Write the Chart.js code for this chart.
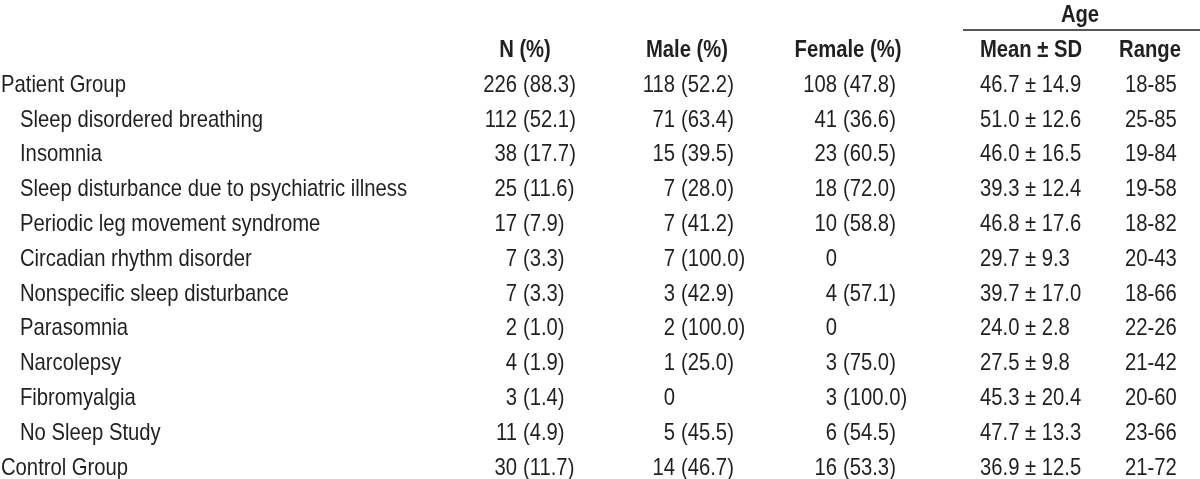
<!DOCTYPE html>
<html>
<head>
<meta charset="utf-8">
<script src="https://cdn.jsdelivr.net/npm/chart.js@4"></script>
<style>
  html, body { margin: 0; padding: 0; background: #fff; }
  #wrap { width: 1200px; height: 479px; }
</style>
</head>
<body>
<div id="wrap"><canvas id="chartTable"></canvas></div>
<script>
// table data
const rowLabels = ['Patient Group', 'Sleep disordered breathing', 'Insomnia',
  'Sleep disturbance due to psychiatric illness', 'Periodic leg movement syndrome',
  'Circadian rhythm disorder', 'Nonspecific sleep disturbance', 'Parasomnia',
  'Narcolepsy', 'Fibromyalgia', 'No Sleep Study', 'Control Group'];
const subRow = [false, true, true, true, true, true, true, true, true, true, true, false];
const nCount = [226, 112, 38, 25, 17, 7, 7, 2, 4, 3, 11, 30];
const nPct = [88.3, 52.1, 17.7, 11.6, 7.9, 3.3, 3.3, 1.0, 1.9, 1.4, 4.9, 11.7];
const maleCount = [118, 71, 15, 7, 7, 7, 3, 2, 1, 0, 5, 14];
const malePct = [52.2, 63.4, 39.5, 28.0, 41.2, 100.0, 42.9, 100.0, 25.0, null, 45.5, 46.7];
const femaleCount = [108, 41, 23, 18, 10, 0, 4, 0, 3, 3, 6, 16];
const femalePct = [47.8, 36.6, 60.5, 72.0, 58.8, null, 57.1, null, 75.0, 100.0, 54.5, 53.3];
const ageMean = [46.7, 51.0, 46.0, 39.3, 46.8, 29.7, 39.7, 24.0, 27.5, 45.3, 47.7, 36.9];
const ageSD = [14.9, 12.6, 16.5, 12.4, 17.6, 9.3, 17.0, 2.8, 9.8, 20.4, 13.3, 12.5];
const ageMin = [18, 25, 19, 19, 18, 20, 18, 22, 21, 20, 23, 21];
const ageMax = [85, 85, 84, 58, 82, 43, 66, 26, 42, 60, 66, 72];
const columnHeaders = ['N (%)', 'Male (%)', 'Female (%)', 'Mean \u00b1 SD', 'Range'];
const groupHeader = 'Age';

// layout (x in page px, y in row index)
const colX = { label: 1, sub: 20, n: 520, male: 678, female: 840, mean: 980, range: 1125 };
const headerX = [525, 687, 848, 1031, 1150];
const groupX = 1080;
const groupLine = [963, 1200];
const textColor = '#231f20';
const fontFamily = "'Liberation Sans', Arial, sans-serif";
const fontSize = 24;

function countText(c, p) {
  return p === null ? [String(c), ''] : [String(c), '(' + p.toFixed(1) + ')'];
}

function cells(key, align, fmt) {
  return {
    type: 'scatter', align: align, pointRadius: 0,
    data: rowLabels.map((_, i) => ({ x: colX[key], y: i + 2, text: fmt(i) }))
  };
}

const datasets = [
  {
    type: 'scatter', align: 'left', pointRadius: 0,
    data: rowLabels.map((lab, i) => ({ x: subRow[i] ? colX.sub : colX.label, y: i + 2, text: lab }))
  },
  cells('n', 'paren', i => countText(nCount[i], nPct[i])),
  cells('male', 'paren', i => countText(maleCount[i], malePct[i])),
  cells('female', 'paren', i => countText(femaleCount[i], femalePct[i])),
  cells('mean', 'left', i => ageMean[i].toFixed(1) + ' \u00b1 ' + ageSD[i].toFixed(1)),
  cells('range', 'left', i => ageMin[i] + '-' + ageMax[i]),
  {
    type: 'scatter', align: 'center', bold: true, pointRadius: 0,
    data: columnHeaders.map((h, i) => ({ x: headerX[i], y: 1, text: h }))
      .concat([{ x: groupX, y: 0, text: groupHeader }])
  },
  {
    type: 'line', borderColor: textColor, borderWidth: 1.5, pointRadius: 0,
    data: [{ x: groupLine[0], y: 0.42 }, { x: groupLine[1], y: 0.42 }]
  }
];

const tableText = {
  id: 'tableText',
  afterDatasetsDraw(chart) {
    const ctx = chart.ctx;
    ctx.save();
    ctx.font = fontSize + 'px ' + fontFamily;
    // squeeze the text to the narrow face of the original
    const sx = 387 / ctx.measureText('Sleep disturbance due to psychiatric illness').width;
    ctx.fillStyle = textColor;
    ctx.textBaseline = 'middle';
    chart.data.datasets.forEach((ds, d) => {
      if (!ds.align) return;
      ctx.font = (ds.bold ? 'bold ' : '') + fontSize + 'px ' + fontFamily;
      chart.getDatasetMeta(d).data.forEach((el, i) => {
        const t = ds.data[i].text;
        ctx.save();
        ctx.translate(el.x, el.y);
        ctx.scale(sx, 1);
        if (ds.align === 'paren') {
          ctx.textAlign = 'right';
          ctx.fillText(t[0], -3 / sx, 0);
          ctx.textAlign = 'left';
          ctx.fillText(t[1], 3 / sx, 0);
        } else {
          ctx.textAlign = ds.align;
          ctx.fillText(t, 0, 0);
        }
        ctx.restore();
      });
    });
    ctx.restore();
  }
};

new Chart(document.getElementById('chartTable'), {
  type: 'scatter',
  data: { datasets: datasets },
  options: {
    responsive: true,
    maintainAspectRatio: false,
    animation: false,
    events: [],
    layout: { padding: { top: 15.5, bottom: 11, left: 0, right: 0 } },
    plugins: { legend: { display: false }, tooltip: { enabled: false } },
    scales: {
      x: { type: 'linear', min: 0, max: 1200, display: false },
      y: { type: 'linear', min: 0, max: 13, reverse: true, display: false }
    }
  },
  plugins: [tableText]
});
</script>
</body>
</html>
